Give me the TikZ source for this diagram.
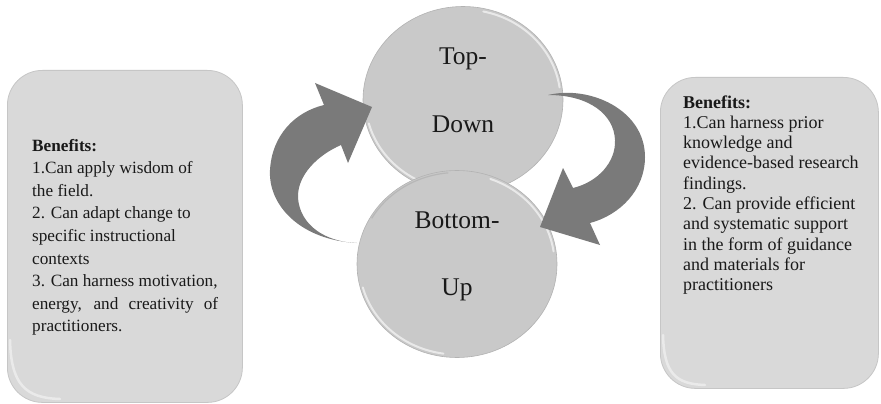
\documentclass[tikz,border=0pt]{standalone}
\usepackage{fontspec}
\setmainfont{Liberation Serif}
\usetikzlibrary{shapes.geometric}
\definecolor{arrowgray}{RGB}{122,122,122}
\definecolor{circfill}{RGB}{201,201,201}
\definecolor{boxfill}{RGB}{217,217,217}
\definecolor{boxedge}{RGB}{198,198,198}
\definecolor{txt}{RGB}{25,25,25}
\begin{document}
\begin{tikzpicture}[x=1pt,y=1pt,
  benefitbox/.style={draw=boxedge, line width=0.8pt, fill=boxfill, rounded corners=35pt, inner sep=0pt},
  bubble/.style={ellipse, draw=gray!60, line width=0.6pt, fill=circfill, minimum width=200pt, minimum height=187pt, inner sep=0pt},
  fatarrow/.style={fill=arrowgray, draw=none},
  bubbletext/.style={font=\fontsize{25.5}{30}\selectfont, text=txt, inner sep=0pt, anchor=base},
  boxtext/.style={text=txt, inner sep=0pt, anchor=base west},
  rim/.style={white, line width=2pt, opacity=0.6, line cap=round},
  boxrim/.style={white, line width=2.5pt, opacity=0.45, line cap=round}]
\useasboundingbox (0,0) rectangle (881,-404);
\fill[white] (0,0) rectangle (881,-404);

% benefit boxes
\node[benefitbox, minimum width=235pt, minimum height=332pt, anchor=north west] (leftbox) at (7,-70) {};
\node[benefitbox, minimum width=218pt, minimum height=311pt, anchor=north west] (rightbox) at (660,-77) {};
\draw[boxrim] (10,-340) .. controls (11,-384) and (25,-398) .. (60,-399);
\draw[boxrim] (663,-335) .. controls (664,-374) and (676,-384) .. (705,-385);

\node[boxtext] (lefttext) at (32,-151) {\parbox[t]{210pt}{\fontsize{17.2}{22.6}\selectfont\raggedright
\textbf{Benefits:}\\
1.Can apply wisdom of\\
the field.\\
2. Can adapt change to\\
specific instructional\\
contexts\\
3. Can harness motivation,\\
\makebox[186pt][s]{energy, and creativity of}\\
practitioners.}};

\node[boxtext] (righttext) at (683,-108) {\parbox[t]{195pt}{\fontsize{18}{20.3}\selectfont\raggedright
\textbf{Benefits:}\\
1.Can harness prior\\
knowledge and\\
evidence-based research\\
findings.\\
2. Can provide efficient\\
and systematic support\\
in the form of guidance\\
and materials for\\
practitioners}};

% bubbles
\node[bubble] (top) at (463,-100) {};
\draw[rim] (top.center) ++(8:97.5pt and 90.5pt) arc[start angle=8, end angle=78, x radius=97.5pt, y radius=90.5pt];
\draw[rim] (top.center) ++(195:97.5pt and 90.5pt) arc[start angle=195, end angle=255, x radius=97.5pt, y radius=90.5pt];
\node[bubble] (bottom) at (457,-264) {};
\draw[rim] (bottom.center) ++(8:97.5pt and 90.5pt) arc[start angle=8, end angle=70, x radius=97.5pt, y radius=90.5pt];
\draw[rim] (bottom.center) ++(195:97.5pt and 90.5pt) arc[start angle=195, end angle=262, x radius=97.5pt, y radius=90.5pt];
\draw[gray!70, line width=1.2pt, opacity=0.5] (bottom.center) ++(95:98.5pt and 91.5pt) arc[start angle=95, end angle=150, x radius=98.5pt, y radius=91.5pt];

% curved arrows
\fill[fatarrow] (357,-243) .. controls (300,-240) and (268,-205) .. (270,-170)
  .. controls (272,-135) and (295,-112) .. (324,-105) -- (315,-83) -- (372,-107) -- (348,-163) -- (341,-145)
  .. controls (318,-155) and (297,-175) .. (298,-198)
  .. controls (300,-225) and (325,-242) .. (357,-243) -- cycle;
\fill[fatarrow] (548,-95) .. controls (590,-85) and (645,-110) .. (645,-157)
  .. controls (645,-190) and (620,-215) .. (590,-223) -- (600,-245) -- (540,-227) -- (563,-168) -- (573,-188)
  .. controls (598,-182) and (616,-162) .. (615,-140)
  .. controls (614,-115) and (590,-95) .. (548,-95) -- cycle;

% bubble texts
\node[bubbletext] (toplabelA) at (463,-65) {Top-};
\node[bubbletext] (toplabelB) at (463,-132) {Down};
\node[bubbletext] (bottomlabelA) at (457,-228) {Bottom-};
\node[bubbletext] (bottomlabelB) at (457,-295) {Up};
\end{tikzpicture}
\end{document}
